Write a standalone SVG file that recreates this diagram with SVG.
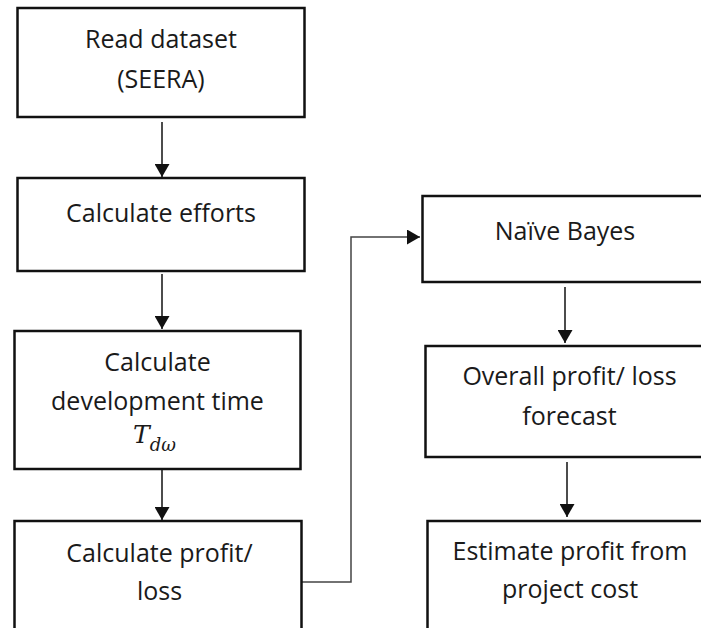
<svg xmlns="http://www.w3.org/2000/svg" width="701" height="628" viewBox="0 0 701 628">
<style>
.box{fill:#fff;stroke:#111;stroke-width:2.5}
.t{font-family:"Open Sans","Liberation Sans",sans-serif;font-size:25px;fill:#1a1a1a;text-anchor:middle}
.m{font-family:"DejaVu Serif","Liberation Serif",serif;font-style:italic;fill:#1a1a1a;font-size:25px}
.sub{font-size:18px}
.arr{fill:none;stroke:#111;stroke-width:1.5;marker-end:url(#ah)}
.con{fill:none;stroke:#444;stroke-width:1.5;marker-end:url(#ah)}
</style>
<defs>
<marker id="ah" markerUnits="userSpaceOnUse" markerWidth="14" markerHeight="15" refX="13" refY="7.5" orient="auto">
<path d="M0,0 L13,7.5 L0,15 z" fill="#111"/>
</marker>
</defs>
<rect width="701" height="628" fill="#fff"/>
<g id="connectors">
<line class="arr" x1="162" y1="122" x2="162" y2="177"/>
<line class="arr" x1="162" y1="274" x2="162" y2="329"/>
<line class="arr" x1="162" y1="469" x2="162" y2="520"/>
<line class="arr" x1="565" y1="287" x2="565" y2="343"/>
<line class="arr" x1="567" y1="462" x2="567" y2="517"/>
<polyline class="con" points="302,582 351,582 351,237 420,237"/>
</g>
<g id="read">
<rect class="box" x="17.5" y="8" width="287" height="109"/>
<text class="t" x="161" y="48">Read dataset</text>
<text class="t" x="161" y="88">(SEERA)</text>
</g>
<g id="efforts">
<rect class="box" x="17.5" y="178" width="287" height="93"/>
<text class="t" x="161" y="222">Calculate efforts</text>
</g>
<g id="devtime">
<rect class="box" x="14.5" y="331" width="286" height="138"/>
<text class="t" x="157.5" y="371">Calculate</text>
<text class="t" x="157.5" y="410">development time</text>
<text class="m" x="133" y="443">T<tspan class="sub" dy="8">dω</tspan></text>
</g>
<g id="profit">
<rect class="box" x="14.5" y="521" width="287" height="130"/>
<text class="t" x="159.5" y="562">Calculate profit/</text>
<text class="t" x="159.5" y="600">loss</text>
</g>
<g id="bayes">
<rect class="box" x="422.5" y="196" width="300" height="86"/>
<text class="t" x="565" y="240">Naïve Bayes</text>
</g>
<g id="overall">
<rect class="box" x="425.5" y="346" width="300" height="111"/>
<text class="t" x="569.5" y="385">Overall profit/ loss</text>
<text class="t" x="569.5" y="425">forecast</text>
</g>
<g id="estimate">
<rect class="box" x="427.5" y="521" width="300" height="130"/>
<text class="t" x="570" y="560">Estimate profit from</text>
<text class="t" x="570" y="598">project cost</text>
</g>
</svg>
